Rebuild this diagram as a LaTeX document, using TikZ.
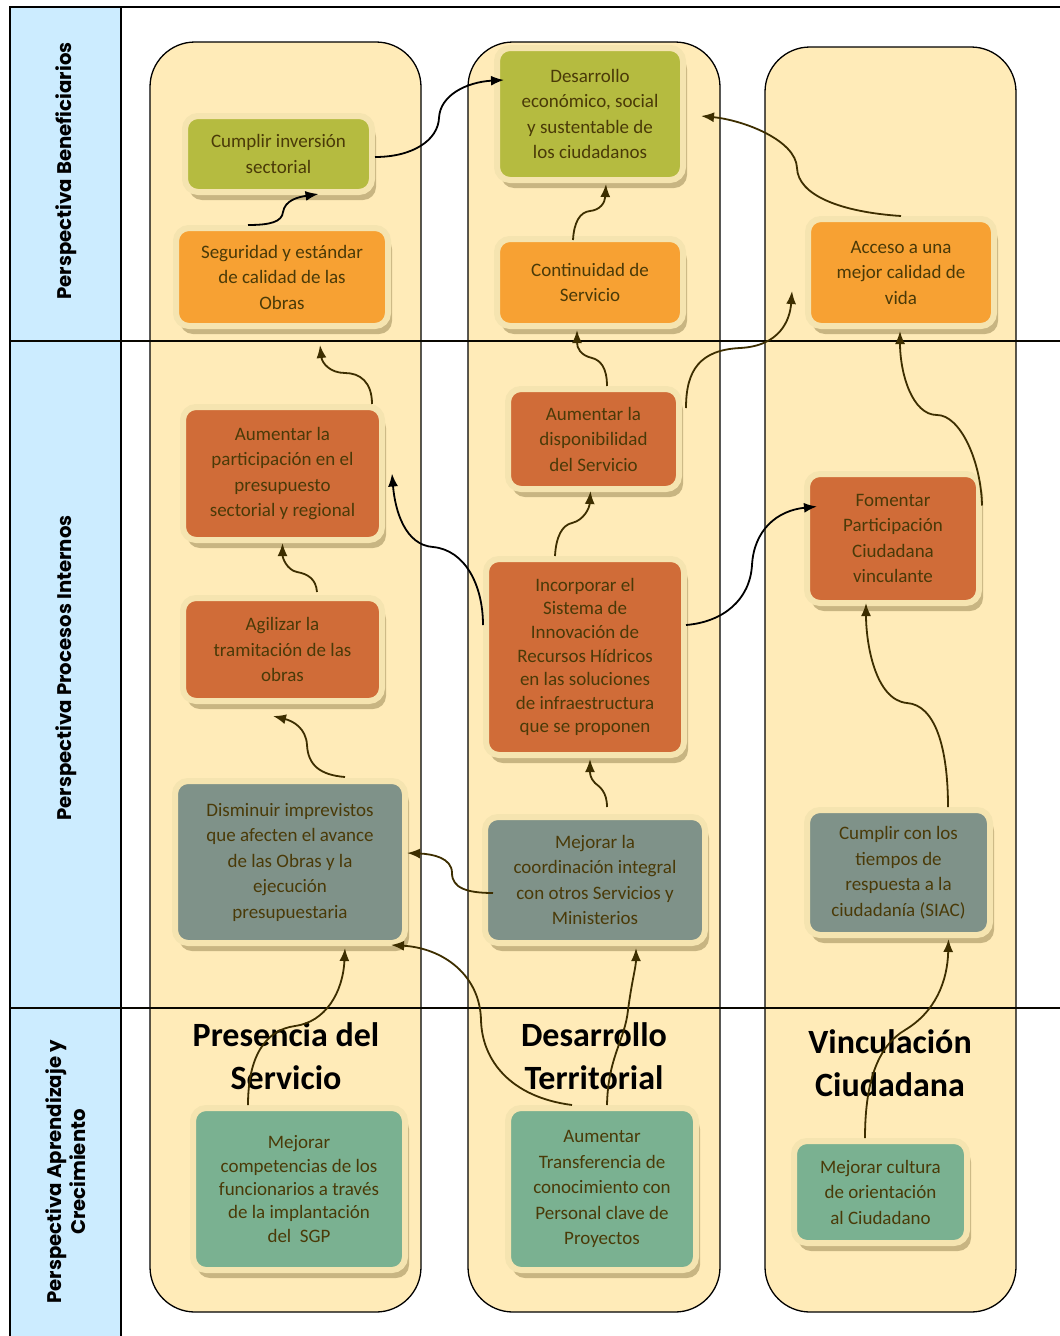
\documentclass[tikz,border=0pt]{standalone}
\usepackage{fontspec}
\setmainfont{Carlito}
\newfontfamily\lblfont{Poppins}
\usetikzlibrary{arrows.meta,shadows,calc}
\definecolor{lanefill}{HTML}{FFEBB8}
\definecolor{bluecol}{HTML}{CCECFF}
\definecolor{glow}{HTML}{F5E4B0}
\definecolor{shad}{HTML}{C8B582}
\definecolor{txt}{HTML}{4A3A08}
\definecolor{cgreen}{HTML}{B5BB40}
\definecolor{corange}{HTML}{F7A133}
\definecolor{cdark}{HTML}{D06C38}
\definecolor{cgray}{HTML}{7F9289}
\definecolor{cteal}{HTML}{7AB191}
\definecolor{abrown}{HTML}{3D2E00}
\tikzset{
  box/.style={rounded corners=13pt, draw=glow, line width=6pt, align=center, text=txt,
    font=\fontsize{19}{25.5}\selectfont, inner sep=0pt,
    drop shadow={shadow xshift=4pt, shadow yshift=-8pt, fill=shad, opacity=1}},
  lanebox/.style={draw=black, line width=1.3pt, fill=lanefill, rounded corners=45pt},
  conn/.style={line width=1.8pt, abrown, -{Latex[length=13pt,width=10pt]}},
  connb/.style={line width=1.8pt, black, -{Latex[length=13pt,width=10pt]}},
  persp/.style={rotate=90, font=\lblfont\bfseries\fontsize{19.7}{24}\selectfont, align=center},
  lanetitle/.style={font=\bfseries\fontsize{34}{43}\selectfont, align=center, text=black}
}
\begin{document}
\begin{tikzpicture}[x=1pt,y=-1pt]
\useasboundingbox (0,0) rectangle (1060,1336);
% left column
\fill[bluecol] (10,7) rectangle (121,1336);
% lanes
\draw[lanebox] (150,42) rectangle (421,1312);
\draw[lanebox] (468,42) rectangle (720,1312);
\draw[lanebox] (765,47) rectangle (1016,1312);
% frame lines
\draw[line width=1.8pt] (10,1336) -- (10,7) -- (1060,7);
\draw[line width=1.8pt] (121,7) -- (121,1336);
\draw[line width=1.6pt, black!85!abrown] (10,341) -- (1060,341);
\draw[line width=1.6pt, black!85!abrown] (10,1008) -- (1060,1008);
% perspective labels
\node[persp] (pben) at (66,171) {Perspectiva Beneficiarios};
\node[persp] (ppro) at (66,668) {Perspectiva Procesos Internos};
\node[persp] (papr) at (66,1172) {Perspectiva Aprendizaje y\\Crecimiento};
% lane titles
\node[lanetitle] (t1) at (286,1056) {Presencia del\\Servicio};
\node[lanetitle] (t2) at (594,1056) {Desarrollo\\Territorial};
\node[lanetitle] (t3) at (890,1063) {Vinculación\\Ciudadana};
% boxes
\node[box, fill=cgreen, minimum width=187pt, minimum height=76pt] (cumplir) at (278.5,154) {Cumplir inversión\\sectorial};
\node[box, fill=corange, minimum width=212pt, minimum height=98pt] (seguridad) at (282,277) {Seguridad y estándar\\de calidad de las\\Obras};
\node[box, fill=cgreen, minimum width=186pt, minimum height=132pt] (desarrollo) at (590,114) {Desarrollo\\económico, social\\y sustentable de\\los ciudadanos};
\node[box, fill=corange, minimum width=186pt, minimum height=87pt] (continuidad) at (590,282.5) {Continuidad de\\Servicio};
\node[box, fill=corange, minimum width=186pt, minimum height=107pt] (acceso) at (901,272.5) {Acceso a una\\mejor calidad de\\vida};
\node[box, fill=cdark, minimum width=199pt, minimum height=133pt] (particip) at (282.5,473.5) {Aumentar la\\participación en el\\presupuesto\\sectorial y regional};
\node[box, fill=cdark, minimum width=199pt, minimum height=103pt] (agilizar) at (282.5,649.5) {Agilizar la\\tramitación de las\\obras};
\node[box, fill=cdark, minimum width=171pt, minimum height=100pt] (dispon) at (593.5,439) {Aumentar la\\disponibilidad\\del Servicio};
\node[box, fill=cdark, minimum width=198pt, minimum height=196pt, font=\fontsize{19}{23.6}\selectfont] (incorp) at (585,657) {Incorporar el\\Sistema de\\Innovación de\\Recursos Hídricos\\en las soluciones\\de infraestructura\\que se proponen};
\node[box, fill=cdark, minimum width=172pt, minimum height=129pt] (fomentar) at (893,538.5) {Fomentar\\Participación\\Ciudadana\\vinculante};
\node[box, fill=cgray, minimum width=183pt, minimum height=125pt] (siac) at (898.5,872.5) {Cumplir con los\\tiempos de\\respuesta a la\\ciudadanía (SIAC)};
\node[box, fill=cgray, minimum width=230pt, minimum height=162pt] (dismin) at (290,862) {Disminuir imprevistos\\que afecten el avance\\de las Obras y la\\ejecución\\presupuestaria};
\node[box, fill=cgray, minimum width=220pt, minimum height=126pt] (coord) at (595,880) {Mejorar la\\coordinación integral\\con otros Servicios y\\Ministerios};
\node[box, fill=cteal, minimum width=212pt, minimum height=162pt, font=\fontsize{19}{23.4}\selectfont] (compet) at (299,1189) {Mejorar\\competencias de los\\funcionarios a través\\de la implantación\\del~~SGP};
\node[box, fill=cteal, minimum width=188pt, minimum height=162pt] (transf) at (602,1189) {Aumentar\\Transferencia de\\conocimiento con\\Personal clave de\\Proyectos};
\node[box, fill=cteal, minimum width=173pt, minimum height=102pt] (cultura) at (880.5,1192) {Mejorar cultura\\de orientación\\al Ciudadano};
% connectors
\draw[connb] ($(cumplir.east)+(0,3)$) .. controls +(38,0) and +(-1,22) .. (439,118) .. controls +(1,-23) and +(-37,2) .. ($(desarrollo.west)+(10,-34)$);
\draw[connb] ($(seguridad.north)+(-34,0)$) .. controls +(22,0) and +(-1,10) .. (283,212) .. controls +(2,-12) and +(-20,3) .. ($(cumplir.south)+(40,-1)$);
\draw[conn] ($(continuidad.north)+(-17,4)$) .. controls +(1,-18) and +(-10,1) .. (590,211) .. controls +(10,-1) and +(-1,19) .. ($(desarrollo.south)+(16,1)$);
\draw[conn] (acceso.north) .. controls +(-61,-4) and +(1,27) .. (797,168) .. controls +(-1,-28) and +(42,4) .. ($(desarrollo.east)+(15,2)$);
\draw[conn] ($(dispon.north)+(13.5,0)$) .. controls +(0,-19) and +(8,2) .. (592,358) .. controls +(-12,-3) and +(0,18) .. ($(continuidad.south)+(-13,1)$);
\draw[conn] ($(dispon.east)+(4,-31)$) .. controls +(0,-38) and +(-40,2) .. (740,348) .. controls +(40,-2) and +(-2,29) .. ($(acceso.west)+(-13,18.5)$);
\draw[conn] ($(fomentar.east)+(0,-33)$) .. controls +(-1,-45) and +(23,0) .. (937,415) .. controls +(-25,0) and +(0,42) .. ($(acceso.south)+(-1,2)$);
\draw[conn] ($(particip.north)+(89.5,0)$) .. controls +(0,-22) and +(15,0) .. (345,373) .. controls +(-15,0) and +(2,18) .. ($(seguridad.south)+(38,16)$);
\draw[conn] ($(agilizar.north)+(34.5,-3)$) .. controls +(-1,-13) and +(11,2) .. (297,572) .. controls +(-10,-2) and +(0,15) .. (particip.south);
\draw[conn] ($(incorp.north)+(-30,0)$) .. controls +(1,-19) and +(-10,2) .. (572,523) .. controls +(12,-3) and +(-1,17) .. ($(dispon.south)+(-3,-1)$);
\draw[connb] ($(incorp.west)+(0,-32)$) .. controls +(0,-40) and +(32,3) .. (433,547) .. controls +(-28,-2) and +(3,37) .. ($(particip.east)+(7,0)$);
\draw[connb] ($(incorp.east)+(-1,-32)$) .. controls +(37,-3) and +(-2,35) .. (752,565) .. controls +(2,-35) and +(-40,4) .. ($(fomentar.west)+(13,-32)$);
\draw[conn] ($(dismin.north)+(55,-1)$) .. controls +(-25,-2) and +(1,20) .. (307,745) .. controls +(-1,-17) and +(20,5) .. ($(agilizar.south)+(-9.5,12)$);
\draw[conn] ($(coord.north)+(12,-7)$) .. controls +(0,-15) and +(5,4) .. (595,783) .. controls +(-5,-5) and +(0,14) .. ($(incorp.south)+(5,1)$);
\draw[conn] ($(coord.west)+(11,13)$) .. controls +(-26,0) and +(0,15) .. (452,873) .. controls +(0,-15) and +(26,1) .. ($(dismin.east)+(-1,-9)$);
\draw[conn] ($(siac.north)+(49.5,0)$) .. controls +(0,-60) and +(28,2) .. (907,703) .. controls +(-32,-3) and +(0,40) .. ($(fomentar.south)+(-27,-3)$);
\draw[conn] ($(compet.north)+(-51,0)$) .. controls +(0,-48) and +(-30,4) .. (295,1026) .. controls +(30,-4) and +(-2,45) .. ($(dismin.south)+(55,2)$);
\draw[conn] ($(transf.north)+(-30,0)$) .. controls +(-62,-8) and +(1,40) .. (481,1020) .. controls +(-1,-45) and +(52,3) .. ($(dismin.south east)+(-17,-1)$);
\draw[conn] ($(transf.north)+(5,0)$) .. controls +(1,-48) and +(-3,30) .. (628,1010) .. controls +(4,-30) and +(0,19) .. ($(coord.south)+(41,2)$);
\draw[conn] ($(cultura.north)+(-15.5,0)$) .. controls +(0,-61) and +(-25,15) .. (905,1030) .. controls +(30,-18) and +(-1,43) .. ($(siac.south)+(50,1)$);
\end{tikzpicture}
\end{document}
